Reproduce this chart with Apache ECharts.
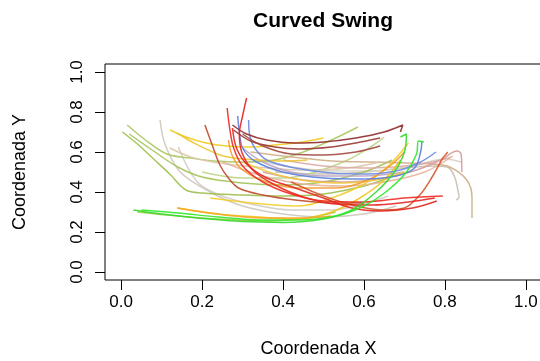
<!DOCTYPE html>
<html>
<head>
<meta charset="utf-8">
<script src="https://cdn.jsdelivr.net/npm/echarts@6/dist/echarts.min.js"></script>
<style>html,body{margin:0;padding:0;background:#fff}#c{width:540px;height:361px}</style>
</head>
<body>
<div id="c"></div>
<script>
// ---- data (Coordenada X, Coordenada Y) ----
const tickValues = [0, 0.2, 0.4, 0.6, 0.8, 1.0];
const tickLabels = ['0.0', '0.2', '0.4', '0.6', '0.8', '1.0'];

const gray1 = [[0.096,0.76],[0.109,0.635],[0.146,0.50],[0.22,0.40],[0.30,0.33],[0.40,0.29],[0.50,0.275],[0.60,0.29],[0.68,0.33]];
const gray2 = [[0.141,0.625],[0.188,0.45],[0.244,0.385],[0.32,0.34],[0.42,0.31],[0.52,0.31],[0.60,0.34],[0.66,0.38]];
const gray3 = [[0.38,0.50],[0.50,0.49],[0.60,0.50],[0.70,0.52],[0.78,0.53],[0.81,0.52],[0.825,0.47],[0.832,0.41],[0.835,0.375],[0.828,0.36]];
const gray4 = [[0.33,0.56],[0.42,0.525],[0.52,0.505],[0.62,0.505],[0.72,0.53],[0.80,0.565],[0.84,0.55]];

const olive1 = [[0.003,0.70],[0.04,0.64],[0.08,0.565],[0.12,0.49],[0.16,0.41],[0.20,0.395],[0.30,0.385],[0.40,0.38],[0.50,0.39],[0.60,0.43],[0.66,0.47]];
const olive2 = [[0.015,0.735],[0.06,0.66],[0.113,0.59],[0.17,0.57],[0.23,0.555],[0.30,0.55],[0.38,0.56],[0.45,0.60],[0.52,0.66],[0.585,0.725]];
const olive3 = [[0.02,0.69],[0.08,0.605],[0.14,0.525],[0.20,0.475],[0.30,0.445],[0.40,0.435],[0.50,0.45],[0.60,0.50],[0.67,0.56]];
const olive4 = [[0.20,0.50],[0.30,0.47],[0.40,0.47],[0.48,0.50],[0.56,0.56],[0.62,0.63],[0.65,0.675]];
const olive5 = [[0.04,0.30],[0.14,0.28],[0.26,0.262],[0.36,0.255],[0.46,0.27],[0.53,0.30]];

const tan1 = [[0.32,0.60],[0.42,0.575],[0.52,0.555],[0.62,0.55],[0.71,0.545],[0.77,0.54],[0.812,0.525],[0.854,0.46],[0.867,0.375],[0.867,0.27]];
const tan2 = [[0.12,0.62],[0.18,0.57],[0.26,0.54],[0.36,0.52],[0.46,0.51],[0.56,0.52],[0.64,0.55]];
const rosy1 = [[0.35,0.50],[0.45,0.46],[0.55,0.45],[0.65,0.47],[0.73,0.51],[0.79,0.56],[0.83,0.605],[0.84,0.59],[0.842,0.50]];
const rosy2 = [[0.40,0.56],[0.50,0.53],[0.60,0.52],[0.70,0.53],[0.77,0.55],[0.815,0.575]];
const salmon1 = [[0.25,0.55],[0.35,0.48],[0.45,0.44],[0.55,0.43],[0.65,0.45],[0.75,0.50],[0.82,0.58]];
const thistle1 = [[0.30,0.62],[0.35,0.55],[0.42,0.50],[0.50,0.48],[0.60,0.48],[0.70,0.50]];

const gold1 = [[0.121,0.71],[0.16,0.675],[0.21,0.645],[0.26,0.63],[0.32,0.625],[0.38,0.635],[0.44,0.648],[0.50,0.67]];
const gold2 = [[0.138,0.695],[0.18,0.645],[0.244,0.585],[0.28,0.57],[0.34,0.56],[0.40,0.555],[0.46,0.56]];
const gold3 = [[0.14,0.32],[0.24,0.29],[0.34,0.275],[0.44,0.265],[0.52,0.30],[0.59,0.37],[0.65,0.46],[0.69,0.56]];
const gold4 = [[0.22,0.37],[0.30,0.35],[0.38,0.335],[0.44,0.33],[0.52,0.37],[0.60,0.44],[0.66,0.53],[0.71,0.645]];
const gold5 = [[0.30,0.55],[0.38,0.49],[0.46,0.455],[0.55,0.445],[0.63,0.46],[0.70,0.50]];

const orange1 = [[0.138,0.32],[0.20,0.30],[0.28,0.28],[0.36,0.27],[0.44,0.27],[0.52,0.28]];
const orange2 = [[0.265,0.66],[0.275,0.58],[0.30,0.51],[0.36,0.45],[0.44,0.42],[0.53,0.42],[0.61,0.46],[0.67,0.54],[0.70,0.60]];

const blue1 = [[0.288,0.78],[0.292,0.70],[0.30,0.62],[0.33,0.555],[0.40,0.50],[0.50,0.47],[0.60,0.465],[0.68,0.48],[0.725,0.52],[0.74,0.60],[0.743,0.655]];
const blue2 = [[0.315,0.76],[0.318,0.68],[0.33,0.62],[0.36,0.56],[0.43,0.52],[0.52,0.495],[0.61,0.49],[0.69,0.51],[0.74,0.55],[0.778,0.60]];

const brown1 = [[0.275,0.735],[0.31,0.69],[0.36,0.66],[0.43,0.645],[0.50,0.65],[0.58,0.67],[0.65,0.70],[0.696,0.735],[0.69,0.70]];
const brown2 = [[0.278,0.71],[0.32,0.655],[0.38,0.625],[0.44,0.615],[0.52,0.625],[0.58,0.645],[0.64,0.67]];
const brown3 = [[0.30,0.69],[0.35,0.63],[0.42,0.59],[0.50,0.585],[0.58,0.60],[0.64,0.63]];

const sienna1 = [[0.207,0.735],[0.225,0.635],[0.244,0.535],[0.265,0.47],[0.29,0.42],[0.35,0.385],[0.43,0.36],[0.52,0.345],[0.60,0.345]];
const sienna2 = [[0.42,0.45],[0.50,0.38],[0.58,0.33],[0.65,0.31],[0.70,0.32],[0.74,0.39],[0.77,0.48],[0.795,0.57],[0.807,0.60]];

const red1 = [[0.31,0.87],[0.30,0.78],[0.292,0.69],[0.298,0.60],[0.325,0.51],[0.38,0.435],[0.45,0.375],[0.53,0.34],[0.62,0.335],[0.71,0.35],[0.775,0.37]];
const red2 = [[0.262,0.82],[0.268,0.72],[0.278,0.62],[0.30,0.53],[0.35,0.45],[0.42,0.39],[0.50,0.355],[0.60,0.35],[0.70,0.37],[0.795,0.38]];
const red3 = [[0.275,0.72],[0.285,0.62],[0.31,0.54],[0.36,0.47],[0.43,0.42],[0.50,0.37],[0.57,0.32],[0.64,0.305],[0.72,0.32],[0.78,0.355]];

const lime1 = [[0.03,0.31],[0.10,0.29],[0.20,0.268],[0.30,0.252],[0.40,0.248],[0.50,0.265],[0.57,0.31],[0.63,0.40],[0.675,0.50],[0.70,0.60],[0.705,0.69],[0.69,0.675]];
const lime2 = [[0.05,0.31],[0.14,0.295],[0.24,0.275],[0.34,0.26],[0.44,0.26],[0.53,0.28],[0.60,0.33],[0.66,0.41],[0.705,0.50],[0.73,0.59],[0.735,0.655],[0.748,0.65]];

// ---- styles ----
const curves = [
  [gray1, '#cdc6bb'], [gray2, '#d2ccc2'], [gray3, '#c9bfb2'], [gray4, '#d6d0c8'],
  [olive1, '#9cc04a'], [olive2, '#a9c862'], [olive3, '#a2c456'], [olive4, '#bdd584'], [olive5, '#9ccf3a'],
  [tan1, '#cfae88'], [tan2, '#dcc8a8'], [rosy1, '#d59a9a'], [rosy2, '#dcaaa8'], [salmon1, '#e4b49e'], [thistle1, '#b9a2c6'],
  [gold1, '#f2cb1e'], [gold2, '#ecc530'], [gold3, '#f0c419'], [gold4, '#f3cd2a'], [gold5, '#f0c840'],
  [orange1, '#f5a623'], [orange2, '#f29a2e'],
  [blue1, '#5b7fdc'], [blue2, '#6c8be0'],
  [brown1, '#8e2a2a'], [brown2, '#9a3a32'], [brown3, '#a0483e'],
  [sienna1, '#c04a2a'], [sienna2, '#d2582c'],
  [red1, '#e8231f'], [red2, '#ee2a22'], [red3, '#e3261e'],
  [lime1, '#33d92b'], [lime2, '#2ee82a']
];

const FONT = 'Liberation Sans, Arial, Helvetica, sans-serif';
const chart = echarts.init(document.getElementById('c'), null, {renderer: 'canvas'});

const series = curves.map(([data, color]) => ({
  type: 'line',
  xAxisIndex: 0, yAxisIndex: 0,
  data: data,
  showSymbol: false,
  symbol: 'none',
  smooth: 0.35,
  silent: true,
  lineStyle: {color: color, width: 1.5, opacity: 0.9}
}));

const fmt = (v) => tickLabels[Math.round(v / 0.2)];
const box = {left: 105, right: -2, top: 64, bottom: 81};

chart.setOption({
  animation: false,
  backgroundColor: '#fff',
  graphic: [
    {type: 'text', x: 323, y: 21, style: {text: 'Curved Swing', font: 'bold 21px ' + FONT, fill: '#000', align: 'center', verticalAlign: 'middle'}}
  ],
  grid: [
    Object.assign({show: false, containLabel: false, outerBoundsMode: 'none'}, box),
    Object.assign({show: true, borderColor: '#000', borderWidth: 1, backgroundColor: 'transparent', containLabel: false, outerBoundsMode: 'none'}, box)
  ],
  xAxis: [
    {
      gridIndex: 0, type: 'value', min: -0.04, max: 1.04,
      name: 'Coordenada X', nameLocation: 'middle', nameGap: 60,
      nameTextStyle: {fontFamily: FONT, fontSize: 18, color: '#000', padding: [0, 10, 0, 0]},
      axisLine: {show: false, onZero: false},
      axisTick: {show: true, inside: false, length: 10, customValues: tickValues, lineStyle: {color: '#000'}},
      axisLabel: {fontFamily: FONT, fontSize: 17, color: '#000', margin: 14, customValues: tickValues, formatter: fmt},
      splitLine: {show: false}
    },
    {gridIndex: 1, type: 'value', min: 0, max: 1, show: false}
  ],
  yAxis: [
    {
      gridIndex: 0, type: 'value', min: -0.04, max: 1.04,
      name: 'Coordenada Y', nameLocation: 'middle', nameGap: 76,
      nameTextStyle: {fontFamily: FONT, fontSize: 18, color: '#000'},
      axisLine: {show: false, onZero: false},
      axisTick: {show: true, inside: false, length: 10, customValues: tickValues, lineStyle: {color: '#000'}},
      axisLabel: {fontFamily: FONT, fontSize: 17, color: '#000', margin: 19, rotate: 90, customValues: tickValues, formatter: fmt},
      splitLine: {show: false}
    },
    {gridIndex: 1, type: 'value', min: 0, max: 1, show: false}
  ],
  series: series
});
</script>
</body>
</html>
